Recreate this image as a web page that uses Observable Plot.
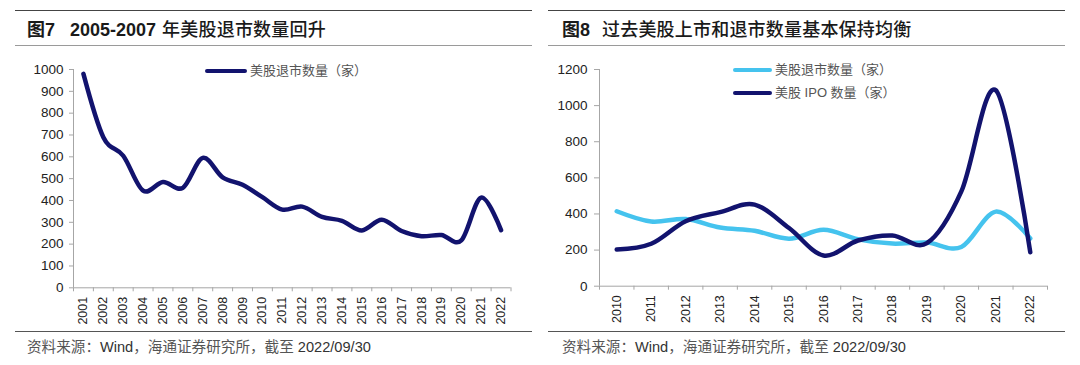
<!DOCTYPE html>
<html>
<head>
<meta charset="utf-8">
<script src="https://cdn.jsdelivr.net/npm/d3@7"></script>
<script src="https://cdn.jsdelivr.net/npm/@observablehq/plot@0.6"></script>
<style>
  body { margin: 0; background: #fff; }
  #root { position: relative; width: 1080px; height: 365px; overflow: hidden; background: #fff;
          font-family: "Liberation Sans", "Noto Sans CJK SC", sans-serif; }
  .chart { position: absolute; top: 50px; }
  .rule { position: absolute; height: 0; }
  .title { position: absolute; top: 21px; font-size: 18px; line-height: 18px; color: #1a1a1a; white-space: nowrap; }
  .title b { font-weight: bold; }
  .title .cn { font-weight: 500; letter-spacing: 0.2px; }
  .source { position: absolute; top: 339px; font-size: 14.6px; line-height: 16px; color: #333; white-space: nowrap; }
  .source .cn { color: #555; }
  .leg { position: absolute; font-size: 13px; line-height: 14px; color: #555; white-space: nowrap; }
  .swatch { position: absolute; height: 4px; border-radius: 2px; }
</style>
</head>
<body>
<div id="root">
  <div class="chart" id="left" style="left:0px"></div>
  <div class="chart" id="right" style="left:540px"></div>

  <!-- left panel frame -->
  <div class="rule" style="left:15px;width:517px;top:10px;border-top:1px solid #444"></div>
  <div class="rule" style="left:15px;width:517px;top:45px;border-top:1.5px solid #9a9a9a"></div>
  <div class="rule" style="left:15px;width:517px;top:331px;border-top:1px solid #555"></div>
  <div class="title" style="left:27px"><b>图7</b><b style="margin-left:15px">2005-2007</b><span class="cn" style="margin-left:6px">年美股退市数量回升</span></div>
  <div class="source" style="left:27px"><span class="cn">资料来源：</span>Wind<span class="cn">，海通证券研究所，截至 </span>2022/09/30</div>

  <!-- right panel frame -->
  <div class="rule" style="left:548px;width:517px;top:10px;border-top:1px solid #444"></div>
  <div class="rule" style="left:548px;width:517px;top:45px;border-top:1.5px solid #9a9a9a"></div>
  <div class="rule" style="left:548px;width:517px;top:331px;border-top:1px solid #555"></div>
  <div class="title" style="left:562px"><b>图8</b><span class="cn" style="margin-left:12px">过去美股上市和退市数量基本保持均衡</span></div>
  <div class="source" style="left:562px"><span class="cn">资料来源：</span>Wind<span class="cn">，海通证券研究所，截至 </span>2022/09/30</div>

  <!-- legends -->
  <div class="swatch" id="swL" style="left:205px;width:42px;top:69px"></div>
  <div class="leg" id="legL" style="left:250px;top:64px"></div>
  <div class="swatch" id="swR1" style="left:733px;width:39px;top:68px"></div>
  <div class="leg" id="legR1" style="left:775px;top:63px"></div>
  <div class="swatch" id="swR2" style="left:733px;width:39px;top:91px"></div>
  <div class="leg" id="legR2" style="left:775px;top:86px"></div>
</div>

<script>
// ---- data ----
const exitYears  = [2001, 2002, 2003, 2004, 2005, 2006, 2007, 2008, 2009, 2010, 2011,
                    2012, 2013, 2014, 2015, 2016, 2017, 2018, 2019, 2020, 2021, 2022];
const exitCounts = [980, 690, 605, 445, 485, 458, 595, 506, 472, 415, 358,
                    372, 325, 307, 263, 312, 260, 236, 242, 217, 413, 264];
const ipoYears   = [2010, 2011, 2012, 2013, 2014, 2015, 2016, 2017, 2018, 2019, 2020, 2021, 2022];
const ipoCounts  = [203, 235, 360, 410, 452, 322, 170, 253, 281, 238, 525, 1085, 188];
const yTicksLeft  = [0, 100, 200, 300, 400, 500, 600, 700, 800, 900, 1000];
const yTicksRight = [0, 200, 400, 600, 800, 1000, 1200];
const labelExit = "美股退市数量（家）";
const labelIpo  = "美股 IPO 数量（家）";
const navy = "#12136e";
const sky  = "#45c3ee";

document.getElementById("legL").textContent = labelExit;
document.getElementById("legR1").textContent = labelExit;
document.getElementById("legR2").textContent = labelIpo;
document.getElementById("swL").style.background = navy;
document.getElementById("swR1").style.background = sky;
document.getElementById("swR2").style.background = navy;

function chart({years, series, yDomain, yTicks, width, height, marginLeft, marginRight, marginTop, marginBottom, tickSizeY, tickPaddingY}) {
  const x0 = years[0] - 0.5, x1 = years[years.length - 1] + 0.5;
  const bounds = years.map(y => y - 0.5).concat([x1]);
  const axisGray = "#a6a6a6";
  const svg = Plot.plot({
    width, height, marginLeft, marginRight, marginTop, marginBottom,
    style: {background: "transparent", overflow: "visible", fontSize: "13px",
            fontFamily: "'Liberation Sans', 'Noto Sans CJK SC', sans-serif"},
    x: {domain: [x0, x1]},
    y: {domain: yDomain},
    marks: [
      Plot.ruleY([0], {stroke: axisGray}),
      Plot.ruleX([x0], {stroke: axisGray}),
      Plot.axisY(yTicks, {tickSize: tickSizeY, tickPadding: tickPaddingY, stroke: axisGray, color: "#222",
                          tickFormat: d => String(d), label: null}),
      Plot.axisX(bounds, {tickSize: 4, tickFormat: () => "", stroke: axisGray, label: null}),
      Plot.axisX(years, {tickSize: 0, tickPadding: 9, tickRotate: -90, color: "#222",
                         tickFormat: d => String(d), label: null}),
      ...series.map(s => Plot.line(s.data, {x: "year", y: "value", stroke: s.color, strokeWidth: 4.5, curve: "cardinal"}))
    ]
  });
  d3.select(svg).selectAll('[aria-label="y-axis tick label"]').attr("font-size", 13.5).style("font-size", "13.5px");
  d3.select(svg).selectAll('[aria-label="x-axis tick label"]').attr("font-size", 12.5).style("font-size", "12.5px");
  return svg;
}

const exitData = exitYears.map((year, i) => ({year, value: exitCounts[i]}));
const ipoData = ipoYears.map((year, i) => ({year, value: ipoCounts[i]}));
const exitRecent = exitData.filter(d => d.year >= ipoYears[0]);

document.getElementById("left").appendChild(chart({
  years: exitYears,
  series: [{data: exitData, color: navy}],
  yDomain: [0, 1000], yTicks: yTicksLeft,
  width: 530, height: 285, marginLeft: 73, marginRight: 19.5, marginTop: 19, marginBottom: 47.7,
  tickSizeY: 4, tickPaddingY: 6
}));

document.getElementById("right").appendChild(chart({
  years: ipoYears,
  series: [{data: exitRecent, color: sky}, {data: ipoData, color: navy}],
  yDomain: [0, 1200], yTicks: yTicksRight,
  width: 530, height: 285, marginLeft: 59, marginRight: 23, marginTop: 19, marginBottom: 49.3,
  tickSizeY: 5, tickPaddingY: 7
}));
</script>
</body>
</html>
